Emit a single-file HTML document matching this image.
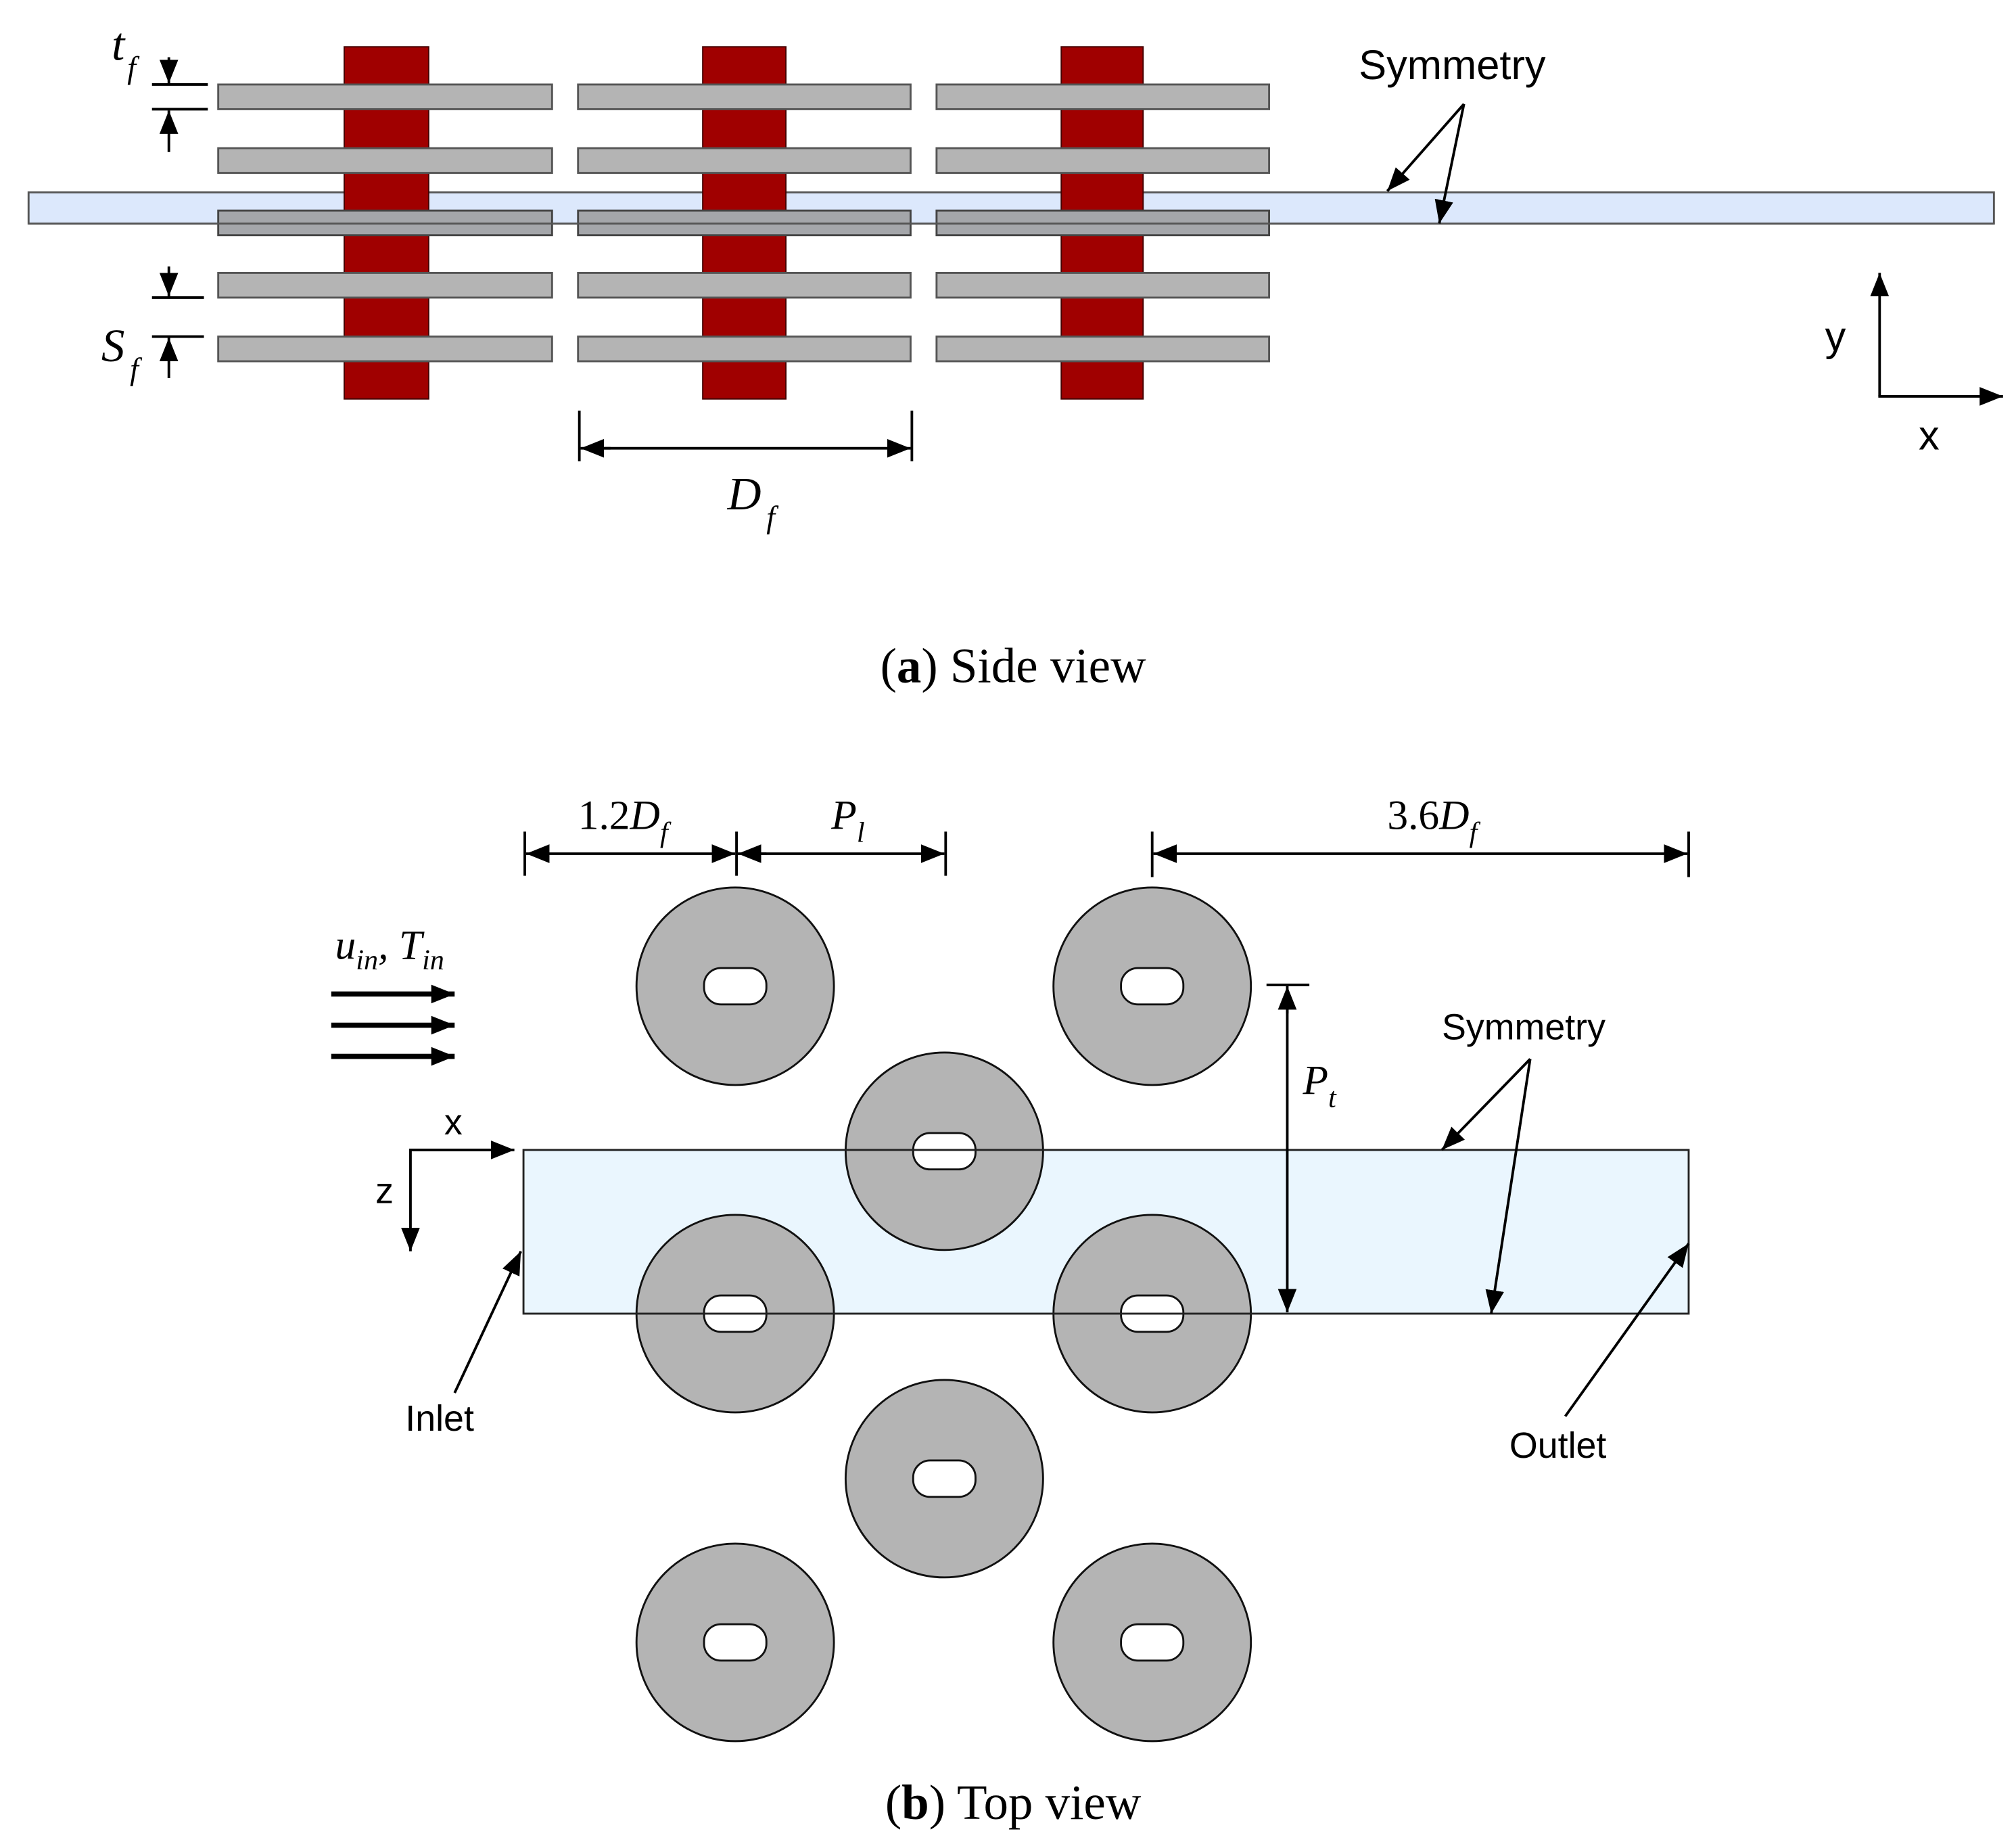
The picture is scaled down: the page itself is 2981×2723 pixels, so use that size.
<!DOCTYPE html>
<html><head><meta charset="utf-8"><style>html,body{margin:0;padding:0;background:#fff}svg{display:block}</style></head>
<body>
<svg width="2981" height="2723" viewBox="0 0 1552 1417.6" xmlns="http://www.w3.org/2000/svg">
<defs>
<marker id="b" viewBox="0 0 10 10" refX="10" refY="5" markerWidth="18" markerHeight="18" markerUnits="userSpaceOnUse" orient="auto"><path d="M0,1L10,5L0,9z" fill="#000"/></marker>
</defs>
<rect width="1552" height="1418" fill="#fff"/>
<!-- side view -->
<rect x="22" y="148" width="1513" height="24" fill="#dce8fc" stroke="#555" stroke-width="1.5"/>
<g fill="#a00000" stroke="#400" stroke-width="1">
<rect x="265" y="36" width="65" height="271"/><rect x="541" y="36" width="64" height="271"/><rect x="817" y="36" width="63" height="271"/>
</g>
<g fill="#b4b4b4" stroke="#555" stroke-width="1.5">
<rect x="168" y="65" width="257" height="19"/><rect x="445" y="65" width="256" height="19"/><rect x="721" y="65" width="256" height="19"/>
<rect x="168" y="114" width="257" height="19"/><rect x="445" y="114" width="256" height="19"/><rect x="721" y="114" width="256" height="19"/>
<rect x="168" y="210" width="257" height="19"/><rect x="445" y="210" width="256" height="19"/><rect x="721" y="210" width="256" height="19"/>
<rect x="168" y="259" width="257" height="19"/><rect x="445" y="259" width="256" height="19"/><rect x="721" y="259" width="256" height="19"/>
</g>
<g fill="#a4a6aa" stroke="#444" stroke-width="1.5">
<rect x="168" y="162" width="257" height="19"/><rect x="445" y="162" width="256" height="19"/><rect x="721" y="162" width="256" height="19"/>
</g>
<line x1="22" y1="172" x2="1535" y2="172" stroke="#555" stroke-width="1.5"/>
<g stroke="#000" stroke-width="2">
<line x1="117" y1="65" x2="160" y2="65"/><line x1="117" y1="84" x2="160" y2="84"/>
<line x1="130" y1="44" x2="130" y2="64" marker-end="url(#b)"/><line x1="130" y1="117" x2="130" y2="85" marker-end="url(#b)"/>
<line x1="117" y1="229" x2="157" y2="229"/><line x1="117" y1="259" x2="157" y2="259"/>
<line x1="130" y1="205" x2="130" y2="228" marker-end="url(#b)"/><line x1="130" y1="291" x2="130" y2="260" marker-end="url(#b)"/>
<line x1="446" y1="316" x2="446" y2="355"/><line x1="702" y1="316" x2="702" y2="355"/>
<line x1="470" y1="345" x2="447" y2="345" marker-end="url(#b)"/><line x1="460" y1="345" x2="701" y2="345" marker-end="url(#b)"/>
<line x1="1127" y1="80" x2="1068" y2="147" marker-end="url(#b)"/><line x1="1127" y1="80" x2="1108" y2="172" marker-end="url(#b)"/>
<line x1="1447" y1="305" x2="1447" y2="210" marker-end="url(#b)"/><line x1="1446" y1="305" x2="1542" y2="305" marker-end="url(#b)"/>
</g>
<g font-family="Liberation Serif, serif" font-style="italic" font-size="36">
<text x="86" y="46">t</text><text x="98" y="60" font-size="24">f</text>
<text x="78" y="278">S</text><text x="100" y="292" font-size="24">f</text>
<text x="560" y="392">D</text><text x="590" y="406" font-size="24">f</text>
</g>
<g font-family="Liberation Sans, sans-serif" font-size="32">
<text x="1046" y="61">Symmetry</text><text x="1405" y="270">y</text><text x="1477" y="346">x</text>
</g>
<text x="780" y="525" text-anchor="middle" font-family="Liberation Serif, serif" font-size="38">(<tspan font-weight="bold">a</tspan>) Side view</text>
<!-- top view -->
<rect x="403" y="885" width="897" height="126" fill="#eaf6fe"/>
<g fill="#b4b4b4" stroke="#111" stroke-width="1.5">
<circle cx="566" cy="759" r="76"/><circle cx="887" cy="759" r="76"/><circle cx="727" cy="886" r="76"/>
<circle cx="566" cy="1011" r="76"/><circle cx="887" cy="1011" r="76"/><circle cx="727" cy="1138" r="76"/>
<circle cx="566" cy="1264" r="76"/><circle cx="887" cy="1264" r="76"/>
</g>
<g fill="#fff" stroke="#111" stroke-width="1.5">
<rect x="542" y="745" width="48" height="28" rx="13"/><rect x="863" y="745" width="48" height="28" rx="13"/><rect x="703" y="872" width="48" height="28" rx="13"/>
<rect x="542" y="997" width="48" height="28" rx="13"/><rect x="863" y="997" width="48" height="28" rx="13"/><rect x="703" y="1124" width="48" height="28" rx="13"/>
<rect x="542" y="1250" width="48" height="28" rx="13"/><rect x="863" y="1250" width="48" height="28" rx="13"/>
</g>
<rect x="403" y="885" width="897" height="126" fill="none" stroke="#222" stroke-width="1.5"/>
<g stroke="#000" stroke-width="2">
<line x1="404" y1="640" x2="404" y2="674"/><line x1="567" y1="640" x2="567" y2="674"/><line x1="728" y1="640" x2="728" y2="674"/>
<line x1="420" y1="657" x2="405" y2="657" marker-end="url(#b)"/><line x1="410" y1="657" x2="566" y2="657" marker-end="url(#b)"/>
<line x1="590" y1="657" x2="568" y2="657" marker-end="url(#b)"/><line x1="580" y1="657" x2="727" y2="657" marker-end="url(#b)"/>
<line x1="887" y1="640" x2="887" y2="675"/><line x1="1300" y1="640" x2="1300" y2="675"/>
<line x1="905" y1="657" x2="888" y2="657" marker-end="url(#b)"/><line x1="895" y1="657" x2="1299" y2="657" marker-end="url(#b)"/>
<line x1="975" y1="758" x2="1008" y2="758"/>
<line x1="991" y1="780" x2="991" y2="759" marker-end="url(#b)"/><line x1="991" y1="770" x2="991" y2="1010" marker-end="url(#b)"/>
<line x1="255" y1="765" x2="350" y2="765" stroke-width="4" marker-end="url(#b)"/>
<line x1="255" y1="789" x2="350" y2="789" stroke-width="4" marker-end="url(#b)"/>
<line x1="255" y1="813" x2="350" y2="813" stroke-width="4" marker-end="url(#b)"/>
<line x1="316" y1="885" x2="396" y2="885" marker-end="url(#b)"/><line x1="316" y1="884" x2="316" y2="963" marker-end="url(#b)"/>
<line x1="1178" y1="815" x2="1110" y2="885" marker-end="url(#b)"/><line x1="1178" y1="815" x2="1148" y2="1011" marker-end="url(#b)"/>
<line x1="350" y1="1072" x2="401" y2="963" marker-end="url(#b)"/>
<line x1="1205" y1="1090" x2="1300" y2="957" marker-end="url(#b)"/>
</g>
<g font-family="Liberation Serif, serif" font-size="32">
<text x="445" y="638">1.2<tspan font-style="italic">D</tspan><tspan font-style="italic" font-size="22" dy="10">f</tspan></text>
<text x="640" y="638" font-style="italic">P<tspan font-size="22" dy="10">l</tspan></text>
<text x="1068" y="638">3.6<tspan font-style="italic">D</tspan><tspan font-style="italic" font-size="22" dy="10">f</tspan></text>
<text x="1003" y="842" font-style="italic">P<tspan font-size="22" dy="10">t</tspan></text>
<text x="258" y="738" font-style="italic">u<tspan font-size="22" dy="8">in</tspan><tspan dy="-8">, T</tspan><tspan font-size="22" dy="8">in</tspan></text>
</g>
<g font-family="Liberation Sans, sans-serif" font-size="28">
<text x="1110" y="800">Symmetry</text><text x="342" y="873">x</text><text x="289" y="926">z</text>
<text x="312" y="1101">Inlet</text><text x="1162" y="1122">Outlet</text>
</g>
<text x="780" y="1400" text-anchor="middle" font-family="Liberation Serif, serif" font-size="38">(<tspan font-weight="bold">b</tspan>) Top view</text>
</svg>
</body></html>
